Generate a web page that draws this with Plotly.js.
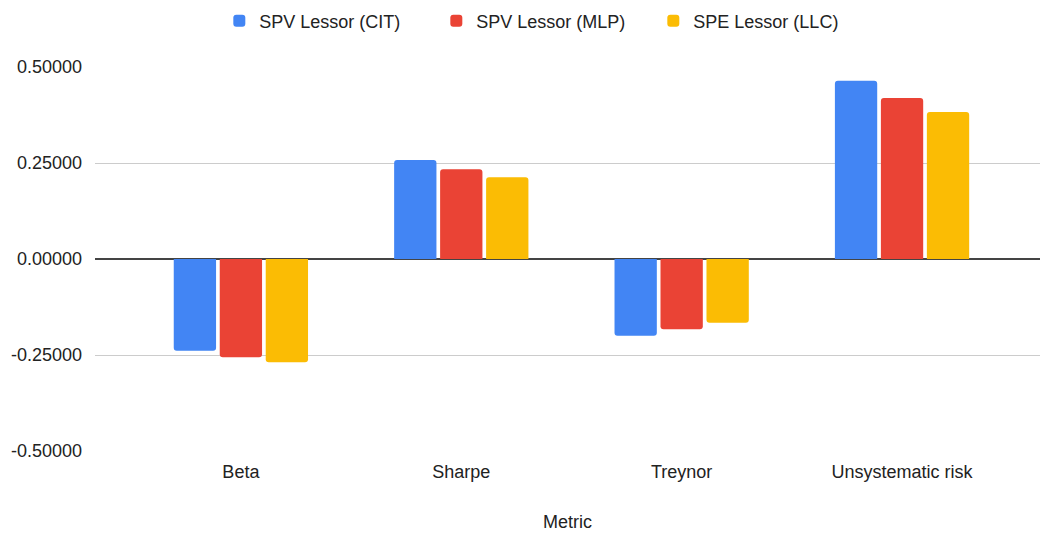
<!DOCTYPE html>
<html>
<head>
<meta charset="utf-8">
<script src="https://cdn.plot.ly/plotly-3.0.1.min.js"></script>
<style>html,body{margin:0;padding:0;background:#fff;}#chart{width:1041px;height:534px;}</style>
</head>
<body>
<div id="chart"></div>
<script>
const metrics = ["Beta", "Sharpe", "Treynor", "Unsystematic risk"];
const seriesNames = ["SPV Lessor (CIT)", "SPV Lessor (MLP)", "SPE Lessor (LLC)"];
const citValues = [-0.239, 0.258, -0.200, 0.464];
const mlpValues = [-0.256, 0.234, -0.183, 0.419];
const llcValues = [-0.269, 0.213, -0.166, 0.383];
const colors = ["#4285F4", "#EA4335", "#FBBC04"];
const yTickVals = [-0.5, -0.25, 0, 0.25, 0.5];
const yTickText = ["-0.50000", "-0.25000", "0.00000", "0.25000", "0.50000"];

const allValues = [citValues, mlpValues, llcValues];
const traces = allValues.map((vals, i) => ({
  type: "bar",
  name: seriesNames[i],
  x: metrics,
  y: vals,
  marker: {color: colors[i], cornerradius: 3},
  hoverinfo: "x+y+name"
}));

const FS = 18;
const layout = {
  width: 1041,
  height: 534,
  margin: {l: 95, r: 1, t: 67, b: 83},
  paper_bgcolor: "#fff",
  plot_bgcolor: "#fff",
  font: {family: "Liberation Sans, Arial, sans-serif", size: FS, color: "#222"},
  barmode: "group",
  bargap: 0.374,
  bargroupgap: 0.08,
  showlegend: true,
  legend: {
    orientation: "h",
    x: 0.476, xanchor: "center",
    y: 0.995, yref: "container", yanchor: "top",
    font: {size: FS, color: "#222"},
    itemwidth: 30,
    entrywidth: 172,
    traceorder: "normal"
  },
  xaxis: {
    type: "category",
    range: [-0.662, 3.626],
    showgrid: false,
    zeroline: false,
    showline: false,
    ticks: "",
    ticklabelstandoff: 8,
    tickfont: {size: FS, color: "#222"},
    title: {text: "Metric", font: {size: FS, color: "#222"}, standoff: 34}
  },
  yaxis: {
    range: [-0.5, 0.5],
    tickvals: yTickVals,
    ticktext: yTickText,
    showgrid: true,
    gridcolor: "#cccccc",
    gridwidth: 1,
    zeroline: true,
    zerolinecolor: "#444444",
    zerolinewidth: 2,
    showline: false,
    ticks: "",
    ticklabelstandoff: 12,
    tickfont: {size: FS, color: "#222"}
  }
};

Plotly.newPlot("chart", traces, layout, {displayModeBar: false, staticPlot: true});
</script>
</body>
</html>
